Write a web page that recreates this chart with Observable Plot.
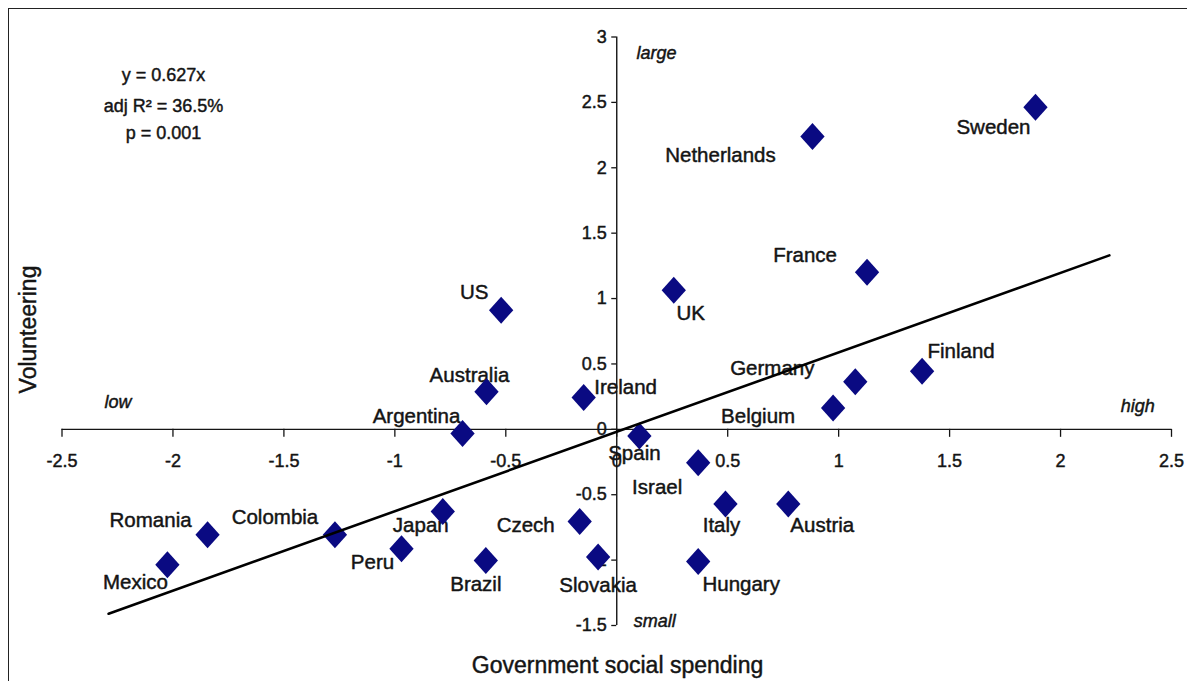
<!DOCTYPE html>
<html><head><meta charset="utf-8">
<script src="https://cdn.jsdelivr.net/npm/d3@7"></script>
<script src="https://cdn.jsdelivr.net/npm/@observablehq/plot@0.6"></script>
<style>
body{margin:0;background:#fff;}
#wrap{position:relative;width:1187px;height:681px;overflow:hidden;}
#border{position:absolute;left:8px;top:8px;right:-10px;bottom:-10px;border-left:1.5px solid #222;border-top:1.5px solid #222;pointer-events:none;}
#chart{position:absolute;left:0;top:0;}
</style></head><body><div id="wrap"><div id="chart"></div><div id="border"></div></div>
<script>
// ---- data ----
const countries = ["Sweden","Netherlands","France","Finland","Germany","Belgium","UK","US","Australia","Ireland","Argentina","Spain","Israel","Italy","Austria","Hungary","Slovakia","Czech","Brazil","Japan","Peru","Colombia","Romania","Mexico"];
const spending = [1.887,0.882,1.128,1.376,1.075,0.975,0.257,-0.521,-0.587,-0.149,-0.695,0.102,0.367,0.490,0.773,0.367,-0.084,-0.167,-0.590,-0.784,-0.970,-1.270,-1.844,-2.025];
const volunteering = [2.463,2.239,1.201,0.445,0.363,0.163,1.063,0.911,0.287,0.244,-0.031,-0.051,-0.255,-0.570,-0.570,-1.011,-0.977,-0.705,-1.003,-0.629,-0.914,-0.807,-0.807,-1.036];
const xTicks = [-2.5,-2,-1.5,-1,-0.5,0,0.5,1,1.5,2,2.5];
const xTickLabels = ["-2.5","-2","-1.5","-1","-0.5","0","0.5","1","1.5","2","2.5"];
const yTicks = [-1.5,-1,-0.5,0,0.5,1,1.5,2,2.5,3];
const yTickLabels = ["-1.5","-1","-0.5","0","0.5","1","1.5","2","2.5","3"];
const fitX = [-2.29, 2.22];
const fitY = [-1.41, 1.33];
const statLines = ["y = 0.627x","adj R\u00b2 = 36.5%","p = 0.001"];
const cornerWords = ["large","small","low","high"];
const xTitle = "Government social spending";
const yTitle = "Volunteering";

// ---- layout (pixel offsets / annotation anchors) ----
const labelOffset = {
  Sweden:[-42,20], Netherlands:[-92,19], France:[-62,-17], Finland:[39,-20], Germany:[-83,-13],
  Belgium:[-75,8], UK:[17,23], US:[-27,-18], Australia:[-17,-16], Ireland:[42,-10],
  Argentina:[-46,-17], Spain:[-5,17], Israel:[-41,25], Italy:[-4,22], Austria:[34,22],
  Hungary:[43,23], Slovakia:[0,28], Czech:[-54,4], Brazil:[-10,24], Japan:[-22,14],
  Peru:[-29,14], Colombia:[-60,-17], Romania:[-57,-14], Mexico:[-32,18]
};
const cornerPos = {large:[0.179,2.873], small:[0.171,-1.471], low:[-2.248,0.211], high:[2.348,0.173]};
const statPos = [[163,75],[163,106],[163,133]];

const points = countries.map((c,i)=>({country:c, x:spending[i], y:volunteering[i]}));
const fit = fitX.map((x,i)=>({x, y:fitY[i]}));

const diamond = {draw(ctx, size){ const r = Math.sqrt(size/Math.PI); const w = r*0.9;
  ctx.moveTo(0,-r); ctx.lineTo(w,0); ctx.lineTo(0,r); ctx.lineTo(-w,0); ctx.closePath(); }};

const font = "Liberation Sans, Arial, sans-serif";
const ink = "#141414";
const heavy = {fill: ink, stroke: ink, strokeWidth: 0.45};
const fixed = {frameAnchor: "top-left", textAnchor: "middle", lineAnchor: "middle"};

const marks = [
  // axes
  Plot.ruleY([0], {x1: -2.5, x2: 2.5, stroke: ink, strokeWidth: 1.4}),
  Plot.ruleX([0], {y1: -1.5, y2: 3, stroke: ink, strokeWidth: 1.4}),
  Plot.ruleX(xTicks, {x: d=>d, y1: 0, y2: 0, insetBottom: -8, stroke: ink, strokeWidth: 1.3}),
  Plot.ruleY(yTicks, {y: d=>d, x1: 0, x2: 0, insetLeft: -5, stroke: ink, strokeWidth: 1.3}),
  Plot.text(xTicks, {x: d=>d, y: 0, text: (d,i)=>xTickLabels[i], dy: 32, fontSize: 18, ...heavy}),
  Plot.text(yTicks, {x: 0, y: d=>d, text: (d,i)=>yTickLabels[i], dx: -10, textAnchor: "end", fontSize: 18, ...heavy}),
  // axis titles
  Plot.text([xTitle], {...fixed, dx: 617, dy: 665, text: d=>d, fontSize: 23, ...heavy}),
  Plot.text([yTitle], {...fixed, dx: 28, dy: 329, text: d=>d, rotate: -90, fontSize: 23, ...heavy}),
  // corner words
  Plot.text(cornerWords, {x: d=>cornerPos[d][0], y: d=>cornerPos[d][1], text: d=>d, fontStyle: "italic", fontSize: 18, ...heavy}),
  // stats
  ...statLines.map((s,i)=>Plot.text([s], {...fixed, dx: statPos[i][0], dy: statPos[i][1], text: d=>d, fontSize: 18, ...heavy})),
  // country labels
  ...points.map(p=>Plot.text([p], {x: "x", y: "y", text: "country", dx: labelOffset[p.country][0], dy: labelOffset[p.country][1], fontSize: 20.5, ...heavy})),
  // points
  Plot.dot(points, {x: "x", y: "y", symbol: diamond, r: 13.5, fill: "#0a0a82", stroke: "none"}),
  // trend line
  Plot.line(fit, {x: "x", y: "y", stroke: "#000", strokeWidth: 2.6})
];

const chart = Plot.plot({
  width: 1187, height: 681,
  margin: 0,
  style: {fontFamily: font, background: "transparent", overflow: "visible"},
  x: {domain: [-2.5, 2.5], range: [61.5, 1171], axis: null},
  y: {domain: [-1.5, 3], range: [625, 36.5], axis: null},
  marks
});
document.getElementById("chart").appendChild(chart);
</script>
</body></html>
